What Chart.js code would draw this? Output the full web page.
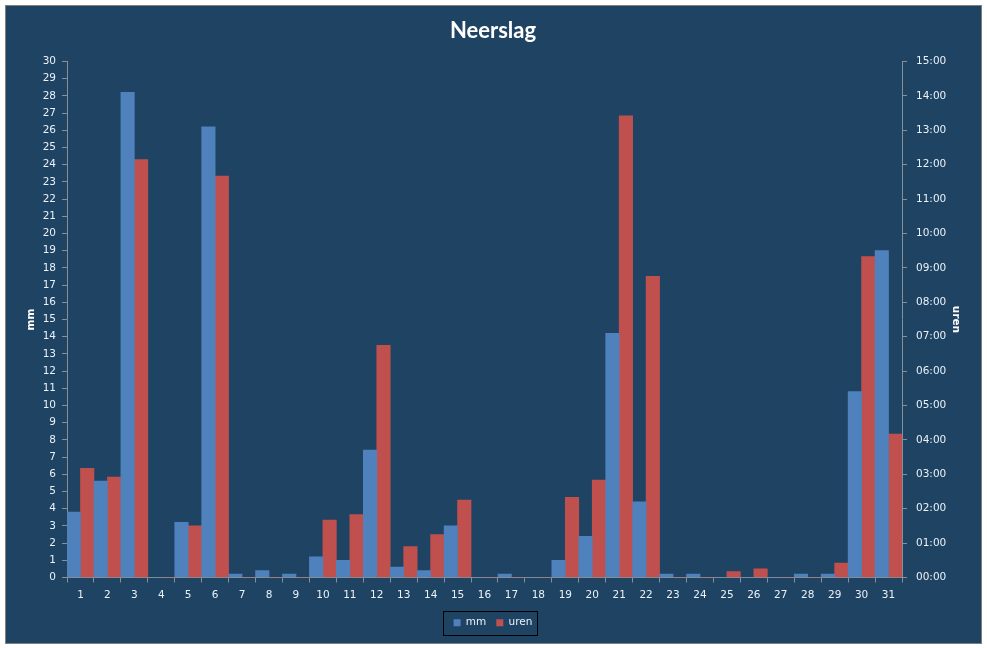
<!DOCTYPE html>
<html lang="nl">
<head>
    <meta charset="UTF-8">
    <title>Neerslag</title>
    <script src="https://cdn.jsdelivr.net/npm/chart.js"></script>
    <style>
        body {
            margin: 0;
            background: #ffffff;
        }
        #wrap {
            width: 987px;
            height: 648px;
            position: relative;
        }
    </style>
</head>
<body>

<div id="wrap">
    <canvas id="neerslagChart"></canvas>
</div>

<script>
    // dagen van de maand
    const dagen = ['1', '2', '3', '4', '5', '6', '7', '8', '9', '10', '11', '12', '13', '14', '15', '16',
                   '17', '18', '19', '20', '21', '22', '23', '24', '25', '26', '27', '28', '29', '30', '31'];

    // neerslag in mm per dag
    const mm = [3.8, 5.6, 28.2, 0, 3.2, 26.2, 0.2, 0.4, 0.2, 1.2, 1.0, 7.4, 0.6, 0.4, 3.0, 0,
                0.2, 0, 1.0, 2.4, 14.2, 4.4, 0.2, 0.2, 0, 0, 0, 0.2, 0.2, 10.8, 19.0];

    // duur van de neerslag in uren (decimaal)
    const uren = [3.17, 2.92, 12.15, 0, 1.5, 11.67, 0, 0, 0, 1.67, 1.83, 6.75, 0.9, 1.25, 2.25, 0,
                  0, 0, 2.33, 2.83, 13.42, 8.75, 0, 0, 0.17, 0.25, 0, 0, 0.42, 9.33, 4.17];

    const bg = '#1f4363';
    const tickColor = '#eaf1f8';
    const axisColor = '#8a8f96';
    const tickFont = { family: 'DejaVu Sans', size: 10.5 };

    // achtergrond, rand en kader om de legenda
    const frame = {
        id: 'frame',
        beforeDraw(chart) {
            const c = chart.ctx;
            c.save();
            c.fillStyle = '#ffffff';
            c.fillRect(0, 0, chart.width, chart.height);
            c.fillStyle = bg;
            c.fillRect(5.5, 5.5, 976, 638);
            c.strokeStyle = '#7f7f7f';
            c.lineWidth = 1;
            c.strokeRect(5.5, 5.5, 976, 638);
            c.restore();
        },
        afterDraw(chart) {
            const boxes = chart.legend.legendHitBoxes;
            if (!boxes || !boxes.length) return;
            const left = Math.min(...boxes.map(b => b.left)) - 11;
            const right = Math.max(...boxes.map(b => b.left + b.width)) + 4;
            const mid = boxes[0].top + boxes[0].height / 2;
            const c = chart.ctx;
            c.save();
            c.strokeStyle = '#000000';
            c.lineWidth = 1;
            c.strokeRect(Math.round(left) + 0.5, Math.round(mid - 12) + 0.5, Math.round(right - left), 24);
            c.restore();
        }
    };

    const ctx = document.getElementById('neerslagChart').getContext('2d');
    const neerslagChart = new Chart(ctx, {
        type: 'bar',
        data: {
            labels: dagen,
            datasets: [{
                label: 'mm',
                data: mm,
                backgroundColor: '#4f81bd',
                yAxisID: 'y'
            }, {
                label: 'uren',
                data: uren,
                backgroundColor: '#c0504d',
                yAxisID: 'y1'
            }]
        },
        options: {
            responsive: true,
            maintainAspectRatio: false,
            animation: false,
            datasets: {
                bar: {
                    categoryPercentage: 1.0,
                    barPercentage: 1.0
                }
            },
            layout: {
                padding: { left: 5, right: 6, top: 5, bottom: 10 }
            },
            plugins: {
                title: {
                    display: true,
                    text: 'Neerslag',
                    color: '#ffffff',
                    font: { family: 'Lato', size: 22, weight: 'bold' },
                    padding: { top: 13, bottom: 17 }
                },
                legend: {
                    position: 'bottom',
                    labels: {
                        color: tickColor,
                        font: tickFont,
                        boxWidth: 7,
                        boxHeight: 7,
                        padding: 10
                    }
                },
                tooltip: { enabled: false }
            },
            scales: {
                x: {
                    grid: {
                        display: true,
                        drawOnChartArea: false,
                        drawTicks: true,
                        tickLength: 5,
                        color: axisColor
                    },
                    border: { color: axisColor },
                    ticks: {
                        color: tickColor,
                        font: tickFont,
                        padding: 6,
                        maxRotation: 0,
                        autoSkip: false
                    },
                    afterFit: (scale) => { scale.height = 30; }
                },
                y: {
                    position: 'left',
                    min: 0,
                    max: 30,
                    grid: {
                        drawOnChartArea: false,
                        tickLength: 5,
                        color: axisColor
                    },
                    border: { color: axisColor },
                    ticks: {
                        stepSize: 1,
                        color: tickColor,
                        font: tickFont,
                        padding: 6
                    },
                    title: {
                        display: true,
                        text: 'mm',
                        color: '#ffffff',
                        font: { family: 'DejaVu Sans', size: 10.5, weight: 'bold' },
                        padding: { top: 20, bottom: 0 }
                    },
                    afterFit: (scale) => { scale.width = 62; }
                },
                y1: {
                    position: 'right',
                    min: 0,
                    max: 15,
                    grid: {
                        drawOnChartArea: false,
                        tickLength: 5,
                        color: axisColor
                    },
                    border: { color: axisColor },
                    ticks: {
                        stepSize: 1,
                        color: tickColor,
                        font: tickFont,
                        padding: 9,
                        callback: (v) => String(v).padStart(2, '0') + ':00'
                    },
                    title: {
                        display: true,
                        text: 'uren',
                        color: '#ffffff',
                        font: { family: 'DejaVu Sans', size: 10.5, weight: 'bold' },
                        padding: { top: 19, bottom: 0 }
                    },
                    afterFit: (scale) => { scale.width = 79; }
                }
            }
        },
        plugins: [frame]
    });
</script>

</body>
</html>
